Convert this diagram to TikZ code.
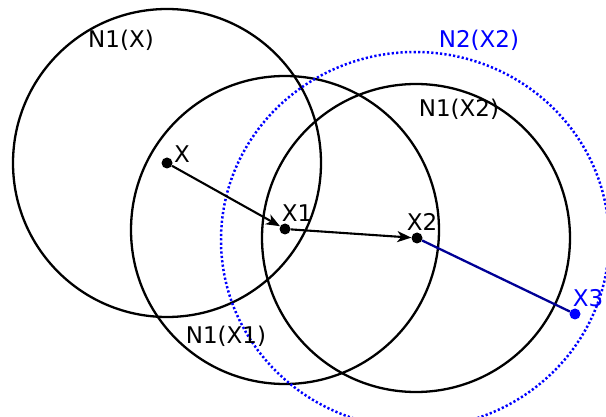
\documentclass[tikz,border=0pt]{standalone}
\usepackage{fontspec}
\newfontfamily\lblfont{DejaVu Sans}
\usetikzlibrary{arrows.meta}
\definecolor{pureblue}{RGB}{0,0,255}
\definecolor{navyline}{RGB}{0,0,150}
\begin{document}
\begin{tikzpicture}[x=1pt,y=-1pt,
  ring/.style={draw=black, line width=2.3pt, circle, inner sep=0pt, minimum size=308pt},
  bluering/.style={draw=pureblue, line width=2.5pt, dash pattern=on 2.2pt off 2.2pt},
  dot/.style={circle, fill=black, inner sep=0pt, minimum size=11pt},
  bluedot/.style={circle, fill=pureblue, inner sep=0pt, minimum size=11pt},
  lbl/.style={font=\lblfont\fontsize{23}{26}\selectfont, inner sep=0pt, anchor=base},
  arr/.style={line width=2.1pt, -{Stealth[length=14pt, width=11pt, inset=4pt]}},
]
\useasboundingbox (0,0) rectangle (606,417);
\clip (0,0) rectangle (606,417);
% neighbourhoods
\node[ring] (N1X)  at (167,163) {};
\node[ring] (N1X1) at (285,230) {};
\node[ring] (N1X2) at (416,238) {};
\draw[bluering] (415,240) ellipse [x radius=194pt, y radius=188pt];
% points
\node[dot] (X)  at (167,163) {};
\node[dot] (X1) at (285,229) {};
\node[dot] (X2) at (417,238) {};
\node[bluedot] (X3) at (575,314) {};
% connectors
\draw[arr] (X) -- (X1);
\draw[arr] (X1) -- (X2);
\draw[navyline, line width=2.3pt] (X2) -- (X3);
% labels
\node[lbl] (lX)  at (182,163) {X};
\node[lbl] (lX1) at (297,222) {X1};
\node[lbl] (lX2) at (422,231) {X2};
\node[lbl, text=pureblue] (lX3) at (588,306) {X3};
\node[lbl] (lN1X)  at (121,48) {N1(X)};
\node[lbl, text=pureblue] (lN2X2) at (479,48) {N2(X2)};
\node[lbl] (lN1X2) at (459,117) {N1(X2)};
\node[lbl] (lN1X1) at (226,344) {N1(X1)};
\end{tikzpicture}
\end{document}
